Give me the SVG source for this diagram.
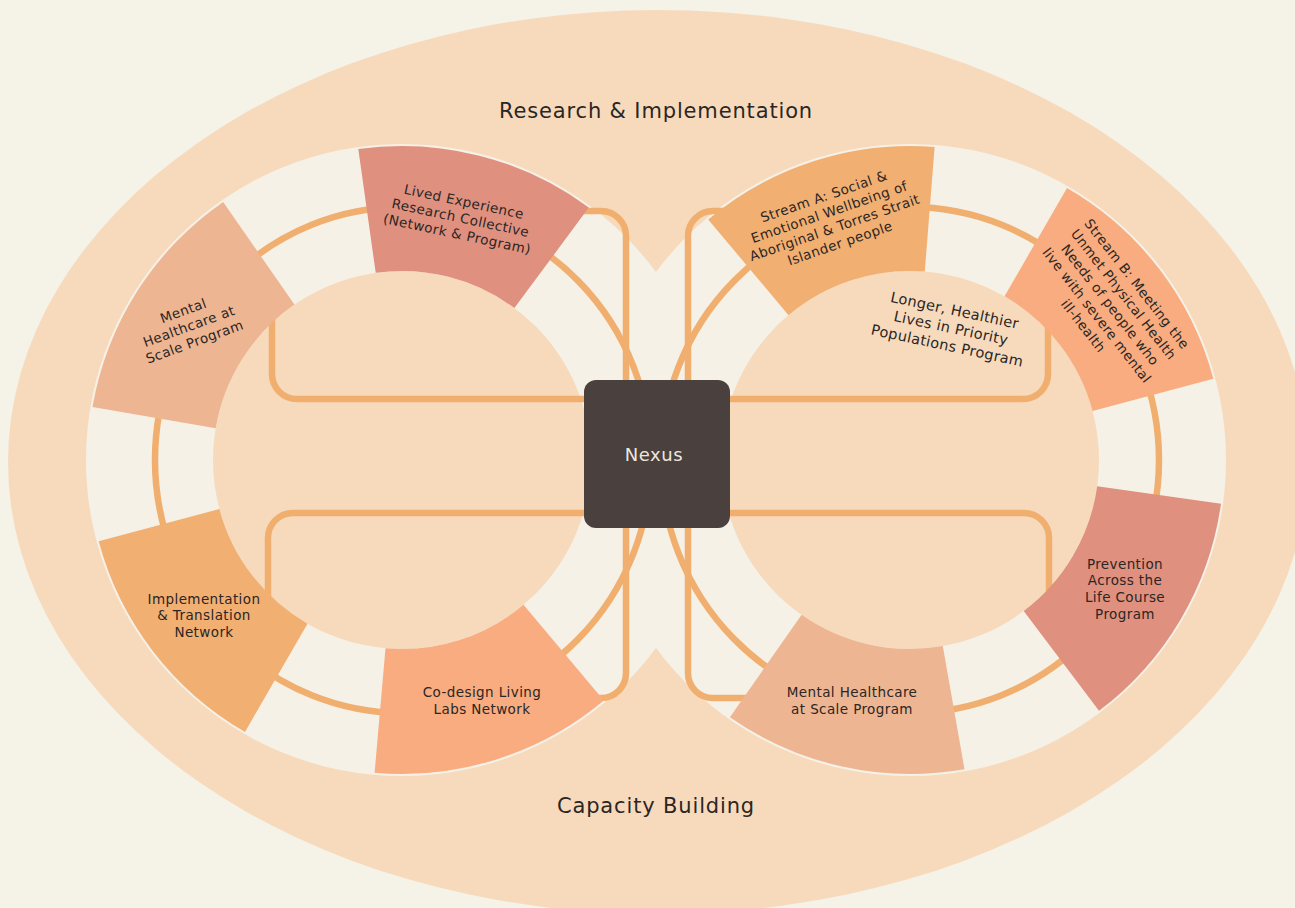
<svg xmlns="http://www.w3.org/2000/svg" width="1295" height="908" viewBox="0 0 1295 908">
  <style>
    .lbl { font-family: "DejaVu Sans", "Liberation Sans", sans-serif; font-size: 13.5px; letter-spacing: 0.4px; fill: #2B2624; text-anchor: middle; }
    .lg { font-size: 14.5px; letter-spacing: 0.3px; }
    .big { font-family: "DejaVu Sans", "Liberation Sans", sans-serif; font-size: 21px; letter-spacing: 0.85px; fill: #2B2624; text-anchor: middle; }
    .ring { fill: none; stroke: #F1AF6F; stroke-width: 6.5; }
    .loop { fill: none; stroke: #F1AF6F; stroke-width: 6.5; stroke-linejoin: round; }
    .cream { fill: #F5F1E7; }
    .peach { fill: #F7DABC; }
    .c1 { fill: #E0907E; }
    .c2 { fill: #EEB592; }
    .c3 { fill: #F2AF72; }
    .c4 { fill: #F8AC7F; }
  </style>
  <rect width="1295" height="908" fill="#F5F2E8"/>
  <g id="frame">
    <ellipse class="peach" cx="658" cy="462" rx="650" ry="452"/>
    <circle class="cream" cx="402" cy="460" r="316"/>
    <circle class="cream" cx="910" cy="460" r="316"/>
  </g>
  <g id="rings">
    <ellipse class="ring" cx="403" cy="460" rx="248" ry="253"/>
    <ellipse class="ring" cx="910" cy="460" rx="249" ry="253"/>
  </g>
  <g id="hubs">
    <circle class="peach" cx="402" cy="460" r="189"/>
    <circle class="peach" cx="910" cy="460" r="189"/>
  </g>
  <g id="connectors">
    <path class="loop" d="M 584 399 H 297 A 25 25 0 0 1 272 374 V 300"/>
    <path class="loop" d="M 626 380 V 236 A 25 25 0 0 0 601 211 H 560"/>
    <path class="loop" d="M 584 513 H 293 A 25 25 0 0 0 268 538 V 620"/>
    <path class="loop" d="M 626 527 V 673 A 25 25 0 0 1 601 698 H 560"/>
    <path class="loop" d="M 730 399 H 1023 A 25 25 0 0 0 1048 374 V 300"/>
    <path class="loop" d="M 688 380 V 236 A 25 25 0 0 1 713 211 H 760"/>
    <path class="loop" d="M 730 513 H 1024 A 25 25 0 0 1 1049 538 V 620"/>
    <path class="loop" d="M 688 527 V 673 A 25 25 0 0 0 713 698 H 760"/>
  </g>
  <g id="lived-experience">
    <path class="c1" d="M 588.8 207.6 A 314 314 0 0 0 358.3 149.0 L 375.7 272.8 A 189 189 0 0 1 514.4 308.1 Z"/>
    <g transform="translate(460.5 218) rotate(12)">
      <text class="lbl" x="0" y="-12">Lived Experience</text>
      <text class="lbl" x="0" y="4.5">Research Collective</text>
      <text class="lbl" x="0" y="21">(Network &amp; Program)</text>
    </g>
  </g>
  <g id="mental-healthcare-left">
    <path class="c2" d="M 223.2 201.9 A 314 314 0 0 0 92.5 407.1 L 215.7 428.2 A 189 189 0 0 1 294.4 304.6 Z"/>
    <g transform="translate(189 326.5) rotate(-20)">
      <text class="lbl" x="0" y="-12">Mental</text>
      <text class="lbl" x="0" y="4.5">Healthcare at</text>
      <text class="lbl" x="0" y="21">Scale Program</text>
    </g>
  </g>
  <g id="implementation">
    <path class="c3" d="M 98.7 541.3 A 314 314 0 0 0 245 731.9 L 307.5 623.7 A 189 189 0 0 1 219.4 508.9 Z"/>
    <text class="lbl" x="204" y="604">Implementation</text>
    <text class="lbl" x="204" y="620.3">&amp; Translation</text>
    <text class="lbl" x="204" y="636.6">Network</text>
  </g>
  <g id="co-design">
    <path class="c4" d="M 374.6 772.8 A 314 314 0 0 0 603.8 700.5 L 523.5 604.8 A 189 189 0 0 1 385.5 648.3 Z"/>
    <text class="lbl" x="482" y="696.5">Co-design Living</text>
    <text class="lbl" x="482" y="713.5">Labs Network</text>
  </g>
  <g id="stream-a">
    <path class="c3" d="M 934.6 147.0 A 314 314 0 0 0 708.2 219.5 L 788.5 315.2 A 189 189 0 0 1 924.8 271.6 Z"/>
    <g transform="translate(832 220) rotate(-19)">
      <text class="lbl" x="0" y="-20.2">Stream A: Social &amp;</text>
      <text class="lbl" x="0" y="-3.7">Emotional Wellbeing of</text>
      <text class="lbl" x="0" y="12.8">Aboriginal &amp; Torres Strait</text>
      <text class="lbl" x="0" y="29.3">Islander people</text>
    </g>
  </g>
  <g id="stream-b">
    <path class="c4" d="M 1213.3 378.7 A 314 314 0 0 0 1067 188.1 L 1004.5 296.3 A 189 189 0 0 1 1092.6 411.1 Z"/>
    <g transform="translate(1110 305) rotate(52)">
      <text class="lbl" x="0" y="-29.5">Stream B: Meeting the</text>
      <text class="lbl" x="0" y="-12.5">Unmet Physical Health</text>
      <text class="lbl" x="0" y="4.5">Needs of people who</text>
      <text class="lbl" x="0" y="21.5">live with severe mental</text>
      <text class="lbl" x="0" y="38.5">ill-health</text>
    </g>
  </g>
  <g id="longer-healthier">
    <g transform="translate(951 328) rotate(12)">
      <text class="lbl lg" x="0" y="-13">Longer, Healthier</text>
      <text class="lbl lg" x="0" y="5">Lives in Priority</text>
      <text class="lbl lg" x="0" y="23">Populations Program</text>
    </g>
  </g>
  <g id="prevention">
    <path class="c1" d="M 1099 710.8 A 314 314 0 0 0 1221 503.7 L 1097.2 486.3 A 189 189 0 0 1 1023.7 610.9 Z"/>
    <text class="lbl" x="1125" y="568.5">Prevention</text>
    <text class="lbl" x="1125" y="585.2">Across the</text>
    <text class="lbl" x="1125" y="601.9">Life Course</text>
    <text class="lbl" x="1125" y="618.6">Program</text>
  </g>
  <g id="mental-healthcare-right">
    <path class="c2" d="M 729.9 717.2 A 314 314 0 0 0 964.5 769.2 L 942.8 646.1 A 189 189 0 0 1 801.6 614.8 Z"/>
    <text class="lbl" x="852" y="696.5">Mental Healthcare</text>
    <text class="lbl" x="852" y="713.5">at Scale Program</text>
  </g>
  <g id="nexus">
    <rect x="584" y="380" width="146" height="148" rx="12" fill="#4A413E"/>
    <text x="654" y="461" style="font-family:'DejaVu Sans','Liberation Sans',sans-serif;font-size:18px;letter-spacing:0.6px;fill:#EEE6DF;text-anchor:middle">Nexus</text>
  </g>
  <g id="titles">
    <text class="big" x="656" y="118">Research &amp; Implementation</text>
    <text class="big" x="656" y="813">Capacity Building</text>
  </g>
</svg>
